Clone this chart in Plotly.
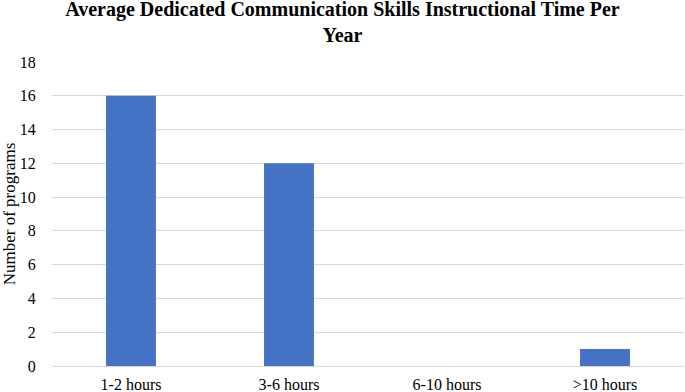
import plotly.graph_objects as go

categories = ["1-2 hours", "3-6 hours", "6-10 hours", ">10 hours"]
values = [16, 12, 0, 1]
y_ticks = [0, 2, 4, 6, 8, 10, 12, 14, 16, 18]

fig = go.Figure(go.Bar(x=categories, y=values, marker_color="#4472C4",
                       marker_line_width=0, hoverinfo="skip"))

font = "Liberation Serif, Times New Roman, serif"
fig.update_layout(
    width=685, height=392,
    margin=dict(l=52, r=1, t=62, b=26, autoexpand=False),
    paper_bgcolor="white", plot_bgcolor="white",
    bargap=0.684,
    font=dict(family=font, size=16, color="black"),
    title=dict(text="<b>Average Dedicated Communication Skills Instructional Time Per<br>Year</b>",
               x=0.5, xanchor="center", y=0.959, yanchor="top",
               font=dict(family=font, size=20, color="black")),
    showlegend=False,
)
fig.update_yaxes(range=[0, 18], tickvals=y_ticks, showgrid=True, gridcolor="#d9d9d9",
                 gridwidth=1, zeroline=False, showline=False,
                 ticks="outside", ticklen=12, tickcolor="rgba(0,0,0,0)",
                 automargin=False,
                 title=dict(text="Number of programs", standoff=4,
                            font=dict(family=font, size=17)))
fig.update_xaxes(showline=True, linecolor="#d9d9d9", linewidth=1, ticks="",
                 showgrid=False, ticklabelstandoff=4, automargin=False)

fig.write_html("out.html", config={"displayModeBar": False},
               post_script="document.body.style.margin='0';document.body.style.overflow='hidden';")
